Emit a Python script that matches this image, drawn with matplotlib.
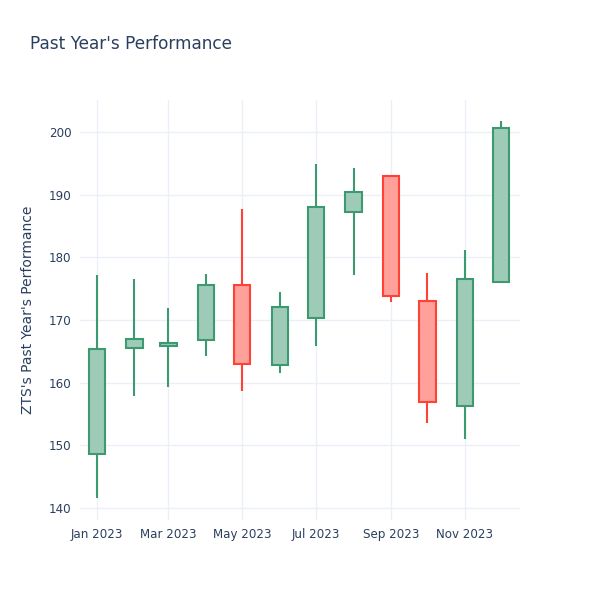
import matplotlib
matplotlib.use("Agg")
import matplotlib.pyplot as plt
import matplotlib.dates as mdates
import numpy as np
import datetime as dt

# monthly OHLC
months = ["2023-01-01", "2023-02-01", "2023-03-01", "2023-04-01", "2023-05-01", "2023-06-01",
          "2023-07-01", "2023-08-01", "2023-09-01", "2023-10-01", "2023-11-01", "2023-12-01"]
opens = [148.6, 165.5, 165.9, 166.8, 175.6, 162.8, 170.4, 187.3, 192.9, 173.1, 156.3, 176.1]
highs = [177.2, 176.5, 171.9, 177.3, 187.7, 174.5, 194.9, 194.2, 193.1, 177.5, 181.2, 201.8]
lows = [141.6, 157.9, 159.3, 164.3, 158.7, 161.5, 165.9, 177.2, 172.8, 153.5, 151.0, 175.9]
closes = [165.4, 166.9, 166.3, 175.6, 163.0, 172.1, 188.0, 190.4, 173.9, 156.9, 176.5, 200.7]

INC_LINE, INC_FILL = "#3D9970", "#9ecbb7"
DEC_LINE, DEC_FILL = "#FF4136", "#ffa09a"
TEXT = "#2a3f5f"
GRID = "#EBF0F8"

dates = [dt.datetime.strptime(m, "%Y-%m-%d") for m in months]
x = mdates.date2num(dates)

fig = plt.figure(figsize=(6, 6), dpi=100)
ax = fig.add_axes([80 / 600, 80 / 600, 440 / 600, 420 / 600])

for xi, o, h, l, c in zip(x, opens, highs, lows, closes):
    up = c >= o
    lc = INC_LINE if up else DEC_LINE
    fc = INC_FILL if up else DEC_FILL
    ax.vlines(xi, l, h, color=lc, linewidth=1.5, zorder=2)
    ax.bar(xi, max(abs(c - o), 0.35), bottom=min(o, c), width=13.5,
           facecolor=fc, edgecolor=lc, linewidth=1.5, zorder=3)

ax.set_xlim(mdates.date2num(dt.datetime(2022, 12, 18)),
            mdates.date2num(dt.datetime(2023, 12, 16, 12)))
ax.set_ylim(138.1, 205.1)

ax.xaxis.set_major_locator(mdates.MonthLocator(bymonth=[1, 3, 5, 7, 9, 11]))
ax.xaxis.set_major_formatter(mdates.DateFormatter("%b %Y"))
ax.set_yticks(np.arange(140, 201, 10))

ax.grid(True, color=GRID, linewidth=1, zorder=0)
ax.set_axisbelow(True)
for s in ax.spines.values():
    s.set_visible(False)
ax.tick_params(length=0, labelsize=8.6, colors=TEXT, pad=6)

ax.set_ylabel("ZTS's Past Year's Performance", fontsize=10, color=TEXT, labelpad=10)
fig.text(30 / 600, 1 - 44 / 600, "Past Year's Performance", fontsize=12.2, color=TEXT, va="center")

fig.savefig("out.png", dpi=100, facecolor="white")
